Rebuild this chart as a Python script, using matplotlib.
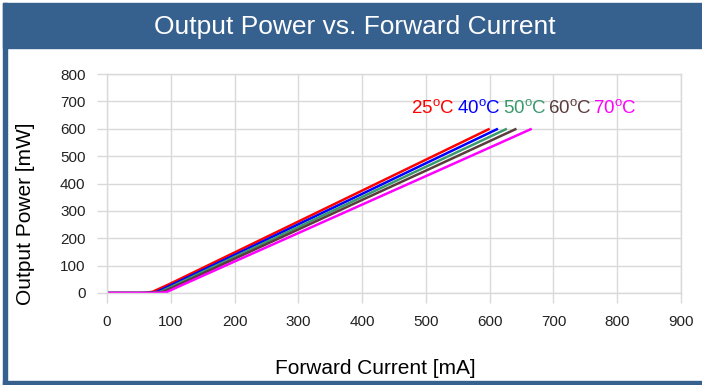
import matplotlib.pyplot as plt
from matplotlib.patches import Rectangle

plt.rcParams['font.family'] = ['Liberation Sans', 'DejaVu Sans']
plt.rcParams['mathtext.fontset'] = 'custom'
plt.rcParams['mathtext.rm'] = 'Liberation Sans'

# LIV-Kurven je Temperatur (Strom in mA, Leistung in mW)
temps = ['25', '40', '50', '60', '70']
colors = ['#ff0000', '#0000ff', '#3a9a6e', '#5a3c3c', '#ff00ff']

current_25 = [0, 50, 62, 72, 100, 200, 300, 400, 500, 600]
power_25 = [0, 0, 1, 5, 35, 148, 261, 374, 487, 600]
current_40 = [0, 55, 68, 78, 100, 200, 300, 400, 500, 613]
power_40 = [0, 0, 1, 4, 28, 139, 251, 362, 474, 600]
current_50 = [0, 60, 73, 83, 100, 200, 300, 400, 500, 627]
power_50 = [0, 0, 1, 4, 22, 132, 241, 351, 461, 600]
current_60 = [0, 63, 77, 87, 100, 200, 300, 400, 500, 642]
power_60 = [0, 0, 1, 4, 17, 125, 232, 340, 447, 600]
current_70 = [0, 68, 82, 93, 110, 200, 300, 400, 500, 666]
power_70 = [0, 0, 1, 3, 21, 115, 219, 323, 427, 600]

currents = [current_25, current_40, current_50, current_60, current_70]
powers = [power_25, power_40, power_50, power_60, power_70]

W, H = 702, 385
fig = plt.figure(figsize=(W / 100, H / 100), dpi=100)

# Rahmen und Titelbalken
blue = '#36618f'
fig.patches.append(Rectangle((3 / W, 1 - 48 / H), 1, 45 / H, transform=fig.transFigure,
                             color=blue, zorder=0))
fig.patches.append(Rectangle((3 / W, 0), 4 / W, 1 - 3 / H, transform=fig.transFigure,
                             color=blue, zorder=0))
fig.patches.append(Rectangle((3 / W, 0), 1, 4 / H, transform=fig.transFigure,
                             color=blue, zorder=0))
fig.text(355 / W, 1 - 27 / H, 'Output Power vs. Forward Current', color='white',
         fontsize=19, ha='center', va='center')

ax = fig.add_axes([107 / W, 1 - 293 / H, (681 - 107) / W, (293 - 74) / H])
for cur, pw, c in zip(currents, powers, colors):
    ax.plot(cur, pw, color=c, linewidth=1.8, solid_capstyle='butt')

ax.set_xlim(0, 900)
ax.set_ylim(0, 800)
ax.set_xticks(range(0, 901, 100))
ax.set_yticks(range(0, 801, 100))
ax.grid(True, color='#d9d9d9', linewidth=1)
ax.set_axisbelow(True)
for s in ax.spines.values():
    s.set_color('#d9d9d9')
    s.set_linewidth(1)
ax.tick_params(length=7.5, width=1, color='#d9d9d9', labelsize=11,
               labelcolor='#222222', pad=8)

fig.text(375 / W, 1 - 368 / H, 'Forward Current [mA]', fontsize=15,
         ha='center', va='center')
fig.text(26 / W, 1 - 214 / H, 'Output Power [mW]', fontsize=15, rotation=90,
         ha='center', va='center')

# Temperaturbeschriftung
xs = [411, 457, 503, 548, 593]
for t, c, x in zip(temps, colors, xs):
    fig.text(x / W, 1 - 114 / H, t + r'$^{\mathrm{o}}$C', color=c, fontsize=13.5,
             ha='left', va='baseline')

fig.savefig('out.png', dpi=100)
